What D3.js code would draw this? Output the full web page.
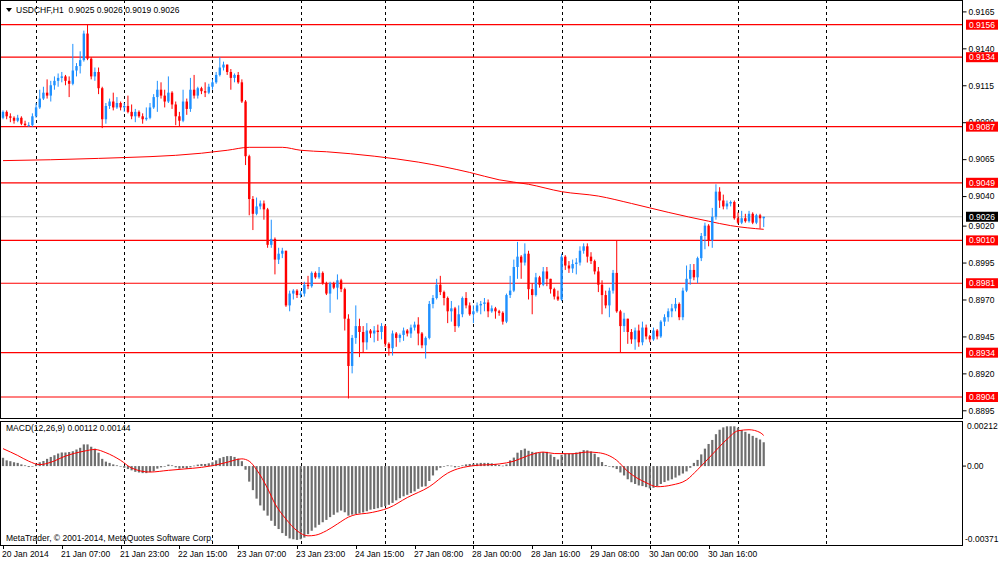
<!DOCTYPE html>
<html lang="en">
<head>
<meta charset="UTF-8">
<title>USDCHF,H1</title>
<script src="https://cdn.jsdelivr.net/npm/d3@7"></script>
<style>
  body { margin: 0; background: #fff; }
  svg text { font-family: "Liberation Sans", Arial, sans-serif; font-size: 8.5px; fill: #000; white-space: pre; }
</style>
</head>
<body>
<div id="chart"></div>
<script>
// prices are written in 1/10000 (0.9097 -> 9097)
const firstOpen = 9093;
const closeP = [
  9097,9094,9093,9091,9093,9089,9088,9088,9094,9100,
  9106,9110,9108,9115,9118,9120,9121,9118,9116,9125,
  9128,9132,9150,9133,9121,9124,9113,9092,9101,9104,
  9100,9103,9100,9101,9097,9094,9097,9094,9092,9093,
  9100,9107,9112,9108,9104,9110,9102,9094,9091,9104,
  9099,9112,9108,9113,9111,9110,9114,9117,9122,9127,
  9129,9124,9120,9122,9117,9104,9067,9038,9028,9033,
  9035,9031,9007,9011,8997,9001,9003,8966,8974,8976,
  8973,8974,8980,8979,8988,8985,8988,8981,8974,8981,
  8978,8983,8977,8957,8925,8944,8952,8948,8941,8949,
  8947,8949,8948,8952,8940,8937,8947,8944,8946,8949,
  8947,8951,8953,8947,8939,8944,8967,8971,8980,8975,
  8971,8962,8964,8952,8960,8971,8966,8960,8962,8966,
  8967,8968,8962,8964,8962,8961,8955,8973,8976,8992,
  8999,8995,9001,8977,8973,8985,8980,8989,8984,8977,
  8972,8970,8999,8993,8991,8994,8995,9003,9006,8999,
  8996,8989,8980,8973,8966,8976,8988,8962,8952,8957,
  8948,8943,8949,8941,8951,8945,8943,8949,8945,8955,
  8958,8962,8964,8967,8958,8976,8984,8990,8985,8998,
  9013,9020,9010,9026,9043,9037,9033,9035,9036,9025,
  9022,9025,9023,9028,9022,9027,9025,9026
];
const highP = [
  9098,9098,9096,9094,9095,9094,9091,9090,9096,9103,
  9112,9114,9119,9118,9121,9123,9124,9122,9121,9143,
  9130,9138,9152,9156,9134,9127,9127,9114,9103,9106,
  9110,9107,9104,9103,9108,9102,9099,9098,9096,9100,
  9103,9109,9118,9117,9112,9121,9111,9104,9097,9112,
  9106,9120,9122,9114,9114,9117,9116,9119,9124,9134,
  9131,9128,9126,9123,9124,9119,9105,9068,9040,9039,
  9037,9037,9032,9024,9012,9005,9005,9003,8976,8977,
  8977,8976,8982,8986,8989,8989,8992,8989,8982,8982,
  8982,8987,8984,8978,8960,8946,8966,8957,8952,8954,
  8950,8952,8953,8954,8953,8941,8949,8948,8947,8951,
  8950,8953,8955,8958,8948,8945,8969,8973,8984,8986,
  8976,8972,8969,8965,8966,8972,8975,8968,8966,8968,
  8969,8971,8970,8966,8965,8963,8962,8974,8986,8997,
  9009,9000,9008,9003,8981,8988,8986,8992,8992,8984,
  8978,8976,9001,9000,8996,8997,8998,9006,9008,9008,
  9002,8997,8992,8983,8976,8978,8990,9010,8963,8961,
  8957,8950,8951,8953,8955,8953,8946,8951,8950,8956,
  8960,8964,8967,8971,8968,8978,8993,8994,8994,8999,
  9015,9022,9021,9032,9048,9046,9041,9037,9037,9037,
  9029,9030,9028,9030,9029,9028,9028,9026
];
const lowP = [
  9092,9092,9090,9089,9090,9088,9087,9087,9087,9093,
  9099,9105,9106,9104,9112,9114,9117,9115,9107,9115,
  9121,9123,9131,9132,9119,9118,9109,9086,9089,9099,
  9098,9099,9098,9097,9096,9092,9090,9093,9089,9091,
  9092,9099,9097,9106,9100,9103,9099,9088,9087,9090,
  9095,9097,9106,9106,9109,9107,9109,9112,9116,9121,
  9125,9122,9112,9117,9116,9103,9061,9027,9017,9027,
  9031,9024,9005,9005,8987,8994,8998,8965,8962,8970,
  8971,8971,8972,8977,8978,8984,8984,8980,8973,8961,
  8977,8970,8975,8949,8903,8920,8940,8931,8934,8936,
  8944,8941,8942,8943,8938,8932,8932,8938,8941,8942,
  8945,8944,8949,8939,8937,8930,8943,8964,8970,8973,
  8966,8954,8955,8948,8951,8958,8964,8959,8954,8961,
  8960,8962,8958,8961,8957,8959,8953,8954,8971,8975,
  8984,8984,8993,8970,8960,8972,8978,8979,8979,8974,
  8970,8969,8969,8990,8988,8988,8987,8993,9001,8995,
  8994,8987,8975,8960,8964,8958,8974,8961,8934,8948,
  8940,8940,8936,8938,8939,8943,8941,8942,8943,8944,
  8952,8955,8958,8962,8956,8956,8975,8980,8983,8981,
  8996,9004,9006,9005,9024,9032,9031,9031,9033,9024,
  9021,9021,9022,9022,9021,9021,9018,9019
];

// red moving average, sampled points [bar, price]
const maBars   = [0, 26, 54, 61, 67, 76, 81, 88, 101, 113, 127, 135, 143, 152, 162, 171, 181, 192, 198, 207];
const maValues = [9064, 9065.5, 9069, 9071, 9073, 9073, 9071, 9070, 9067, 9063, 9056, 9051, 9048, 9043, 9040, 9035, 9029, 9023, 9020, 9017.5];

// horizontal levels and current price
const levels = [9156, 9134, 9087, 9049, 9010, 8981, 8934, 8904];
const lastPrice = 9026;
const priceTicks = [9165, 9140, 9115, 9090, 9065, 9040, 9020, 8995, 8970, 8945, 8920, 8895];

// MACD(12,26,9) main histogram, in 1/10000
const macdHist = [
  3.9,2.7,2.3,1.8,1.5,0.8,0.35,-0.45,-0.1,1.0,
  1.8,2.4,3.4,4.3,5.1,5.9,6.4,6.4,6.6,7.0,
  7.8,8.6,10.2,10.2,9.1,8.2,6.3,3.4,2.1,1.5,
  0.8,0.35,-0.1,-0.8,-1.4,-2.0,-2.7,-3.0,-3.3,-3.3,
  -2.8,-2.4,-1.2,-0.6,-0.1,0.7,0.35,-0.6,-1.2,-0.9,
  -1.2,-0.6,0.2,0.7,1.0,1.0,1.3,1.8,2.7,3.7,
  4.3,4.7,4.7,4.3,3.5,2.3,-1.7,-7.3,-11.3,-15.3,
  -18.5,-20.9,-23.3,-25.7,-28.1,-29.6,-31.5,-32.8,-34,-34.4,
  -34.7,-34.4,-33.6,-32,-30.4,-28.9,-27.6,-26.4,-25.3,-24,
  -22.9,-21.8,-20.9,-21.7,-23.3,-22.8,-22.5,-22.2,-21.8,-21.2,
  -20.5,-20.2,-19.8,-19.3,-18.8,-18.2,-17.3,-16.1,-15.1,-14.2,
  -13.5,-12.7,-11.9,-10.7,-9.7,-9.5,-7.0,-4.4,-2.0,-0.8,
  -0.1,0.35,0.2,-0.6,-0.3,0.35,0.8,1.0,1.15,1.3,
  1.5,1.5,1.5,1.3,1.0,0.5,0.2,0.8,2.7,4.0,
  6.3,7.5,8.2,7.2,6.7,6.4,6.4,6.6,6.7,5.5,
  4.3,3.1,5.3,5.8,5.9,6.1,6.4,6.7,7.5,7.4,
  6.9,5.8,4.2,1.9,0.5,-0.1,-0.6,-1.4,-3.0,-4.4,
  -6.2,-7.6,-8.4,-9.1,-9.4,-9.9,-10.5,-10.2,-9.4,-8.4,
  -7.5,-6.8,-6.2,-5.4,-4.4,-3.5,-2.5,-0.8,1.5,2.9,
  5.5,8.2,10.4,12.3,15.0,17.1,18.2,18.7,18.7,18.7,
  18.1,16.9,16.1,15.2,14.2,13.3,12.5,11.2
];
// signal line, sampled points
const sigBars   = [0,4,7,10,13,17,22,25,28,32,35,40,45,49,54,57,61,65,67,69,72,74,77,80,83,85,88,91,94,96,99,102,105,110,116,121,128,135,139,143,147,150,155,159,162,167,170,175,178,182,186,189,193,197,200,203,206,207];
const sigValues = [8.2,5.0,2.3,0.7,1.8,4.7,7.0,7.8,6.3,2.7,-0.9,-2.8,-2.0,-1.4,-0.6,0.2,1.8,3.4,2.3,-1.7,-10.5,-17.7,-24.9,-30.4,-32.8,-32.5,-30.4,-27.2,-24,-22.8,-22.2,-21.2,-19.6,-14.8,-9.7,-3.3,0.2,1.0,2.3,5.0,6.6,5.9,5.8,6.6,6.3,2.7,-2.5,-7.8,-9.7,-8.9,-6.5,-1.7,5.5,12.6,16.6,17.1,15.8,14.4];

// time axis
const gridBars  = [9, 33, 57, 81, 104, 128, 152, 176, 200, 224];
const timeBars  = [0, 16, 32, 48, 64, 80, 96, 112, 128, 144, 160, 176, 192];
const timeLabels = ["20 Jan 2014", "21 Jan 07:00", "21 Jan 23:00", "22 Jan 15:00", "23 Jan 07:00", "23 Jan 23:00",
  "24 Jan 15:00", "27 Jan 08:00", "28 Jan 00:00", "28 Jan 16:00", "29 Jan 08:00", "30 Jan 00:00", "30 Jan 16:00"];

const width = 1000, height = 562;
const plotRight = 962;
const main = {top: 0, bottom: 418};
const sub = {top: 421, bottom: 545};
const bull = "#1E90FF", bear = "#FF0000";

const svg = d3.select("#chart").append("svg")
  .attr("width", width)
  .attr("height", height);

const x = d3.scaleLinear().domain([0, 224]).range([3, 3 + 224 * 3.675]);
const y = d3.scaleLinear().domain([0.8904, 0.9156]).range([397, 24.7]);
const yM = d3.scaleLinear().domain([-0.00371, 0.00212]).range([sub.bottom, sub.top]);

const bars = closeP.map((c, i) => {
  const o = i ? closeP[i - 1] : firstOpen;
  return {
    i,
    o: o / 1e4,
    c: c / 1e4,
    h: Math.max(highP[i], o, c) / 1e4,
    l: Math.min(lowP[i], o, c) / 1e4
  };
});

// clip regions
const defs = svg.append("defs");
defs.append("clipPath").attr("id", "clipMain").append("rect")
  .attr("x", 0).attr("y", main.top).attr("width", plotRight).attr("height", main.bottom - main.top);
defs.append("clipPath").attr("id", "clipSub").append("rect")
  .attr("x", 0).attr("y", sub.top).attr("width", plotRight).attr("height", sub.bottom - sub.top);

const gMain = svg.append("g").attr("clip-path", "url(#clipMain)");
const gSub = svg.append("g").attr("clip-path", "url(#clipSub)");

// vertical dashed grid
[[gMain, main], [gSub, sub]].forEach(([g, p]) => {
  g.selectAll(null)
    .data(gridBars)
    .join("line")
      .attr("x1", d => Math.round(x(d)) + 0.5)
      .attr("x2", d => Math.round(x(d)) + 0.5)
      .attr("y1", p.top)
      .attr("y2", p.bottom)
      .attr("stroke", "#000")
      .attr("stroke-dasharray", "3,3");
});

// current price line
gMain.append("line")
  .attr("x1", 0).attr("x2", plotRight)
  .attr("y1", y(lastPrice / 1e4)).attr("y2", y(lastPrice / 1e4))
  .attr("stroke", "#c8c8c8");

// horizontal levels
gMain.selectAll(".level")
  .data(levels)
  .join("line")
    .attr("class", "level")
    .attr("x1", 0).attr("x2", plotRight)
    .attr("y1", d => y(d / 1e4)).attr("y2", d => y(d / 1e4))
    .attr("stroke", "#ff0000")
    .attr("stroke-width", 1.2);

// moving average
const maLine = d3.line()
  .x((d, k) => x(maBars[k]))
  .y(d => y(d / 1e4))
  .curve(d3.curveMonotoneX);
gMain.append("path")
  .attr("d", maLine(maValues))
  .attr("fill", "none")
  .attr("stroke", "#ff0000")
  .attr("stroke-width", 1);

// candles
const candle = gMain.selectAll(".candle")
  .data(bars)
  .join("g")
    .attr("class", "candle");

candle.append("line")
  .attr("x1", d => x(d.i)).attr("x2", d => x(d.i))
  .attr("y1", d => y(d.h)).attr("y2", d => y(d.l))
  .attr("stroke", d => d.c >= d.o ? bull : bear)
  .attr("stroke-width", 1);

candle.append("rect")
  .attr("x", d => x(d.i) - 1.2)
  .attr("width", 2.4)
  .attr("y", d => y(Math.max(d.o, d.c)))
  .attr("height", d => Math.max(1, Math.abs(y(d.o) - y(d.c))))
  .attr("fill", d => d.c >= d.o ? bull : bear);

// MACD histogram
gSub.selectAll(".hist")
  .data(macdHist)
  .join("rect")
    .attr("class", "hist")
    .attr("x", (d, i) => x(i) - 1.1)
    .attr("width", 2.2)
    .attr("y", d => Math.min(yM(0), yM(d / 1e4)))
    .attr("height", d => Math.max(0.6, Math.abs(yM(d / 1e4) - yM(0))))
    .attr("fill", "#6e6e6e");

const sigLine = d3.line()
  .x((d, k) => x(sigBars[k]))
  .y(d => yM(d / 1e4))
  .curve(d3.curveMonotoneX);
gSub.append("path")
  .attr("d", sigLine(sigValues))
  .attr("fill", "none")
  .attr("stroke", "#ff0000")
  .attr("stroke-width", 1);

// frames
svg.append("rect")
  .attr("x", 0.5).attr("y", main.top + 0.5)
  .attr("width", plotRight).attr("height", main.bottom - main.top)
  .attr("fill", "none").attr("stroke", "#000");
svg.append("rect")
  .attr("x", 0.5).attr("y", sub.top + 0.5)
  .attr("width", plotRight).attr("height", sub.bottom - sub.top)
  .attr("fill", "none").attr("stroke", "#000");

// price axis
const yAxis = d3.axisRight(y)
  .tickValues(priceTicks.map(d => d / 1e4))
  .tickSize(4)
  .tickPadding(2)
  .tickFormat(d3.format(".4f"));
svg.append("g")
  .attr("transform", `translate(${plotRight + 0.5},0)`)
  .call(yAxis)
  .call(g => g.select(".domain").remove())
  .call(g => g.selectAll("text").attr("font-family", null).attr("font-size", null));

// level tags
const tags = [...levels.map(v => ({v, fill: "#ff0000"})), {v: lastPrice, fill: "#000"}];
const tag = svg.append("g").selectAll("g")
  .data(tags)
  .join("g")
    .attr("transform", d => `translate(${plotRight + 4},${y(d.v / 1e4)})`);
tag.append("rect")
  .attr("x", 0).attr("y", -5)
  .attr("width", 32).attr("height", 10)
  .attr("fill", d => d.fill);
tag.append("text")
  .attr("x", 3).attr("dy", "0.34em")
  .style("fill", "#fff")
  .text(d => (d.v / 1e4).toFixed(4));

// MACD axis
const subAxis = svg.append("g");
subAxis.append("line")
  .attr("x1", plotRight).attr("x2", plotRight + 4)
  .attr("y1", yM(0)).attr("y2", yM(0))
  .attr("stroke", "#000");
subAxis.append("text").attr("x", plotRight + 5).attr("y", yM(0.00212) + 5).attr("dy", "0.34em").text("0.00212");
subAxis.append("text").attr("x", plotRight + 5).attr("y", yM(0)).attr("dy", "0.34em").text("0.00");
subAxis.append("text").attr("x", plotRight + 3).attr("y", yM(-0.00371) - 6).attr("dy", "0.34em").text("-0.00371");

// time axis
const tAxis = svg.append("g");
tAxis.selectAll("line")
  .data(timeBars)
  .join("line")
    .attr("x1", d => Math.round(x(d)) + 0.5).attr("x2", d => Math.round(x(d)) + 0.5)
    .attr("y1", sub.bottom).attr("y2", sub.bottom + 4)
    .attr("stroke", "#000");
tAxis.selectAll("text")
  .data(timeBars)
  .join("text")
    .attr("x", d => Math.round(x(d)) - 1)
    .attr("y", 557)
    .text((d, k) => timeLabels[k]);

// header
svg.append("path")
  .attr("d", "M6,8 L12,8 L9,12 Z")
  .attr("fill", "#000");
svg.append("text")
  .attr("x", 16).attr("y", 13)
  .text("USDCHF,H1  0.9025 0.9026 0.9019 0.9026");

svg.append("text")
  .attr("x", 6).attr("y", 431)
  .text("MACD(12,26,9) 0.00112 0.00144");

svg.append("text")
  .attr("x", 6).attr("y", 541)
  .text("MetaTrader, © 2001-2014, MetaQuotes Software Corp.");
</script>
</body>
</html>
